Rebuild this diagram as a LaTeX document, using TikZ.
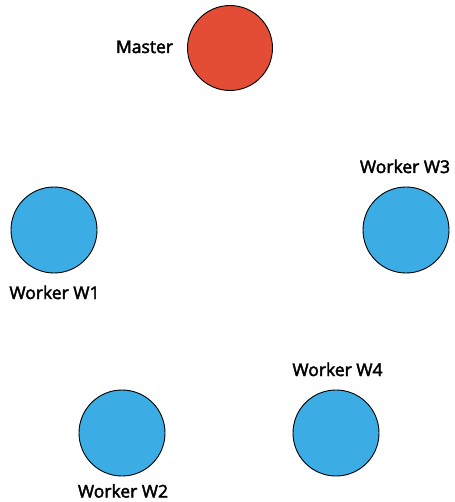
\documentclass[tikz,border=0pt]{standalone}
\usepackage{fontspec}
\setmainfont{Open Sans}
\newfontfamily\lblfont{Open Sans}[FakeBold=2.5]
\definecolor{mred}{HTML}{E34D36}
\definecolor{wblue}{HTML}{3BADE4}
\begin{document}
\begin{tikzpicture}[x=1pt,y=-1pt,
  master/.style={circle,draw=black,line width=0.9pt,fill=mred,minimum size=85pt,inner sep=0pt},
  worker/.style={circle,draw=black,line width=0.9pt,fill=wblue,minimum size=86pt,inner sep=0pt},
  lbl/.style={font=\lblfont\fontsize{17.5}{20}\selectfont,inner sep=0pt,anchor=base}]
\useasboundingbox (0,0) rectangle (454,502);
\node[master] (m) at (230,48) {};
\node[worker] (w1) at (54,230) {};
\node[worker] (w3) at (406,230) {};
\node[worker] (w2) at (122,433) {};
\node[worker] (w4) at (336,433) {};
\node[lbl] (lm) at (144.5,53) {Master};
\node[lbl] (l1) at (54.5,299) {Worker W1};
\node[lbl] (l3) at (405,173) {Worker W3};
\node[lbl] (l4) at (337.5,376) {Worker W4};
\node[lbl] (l2) at (123,497.5) {Worker W2};
\end{tikzpicture}
\end{document}
